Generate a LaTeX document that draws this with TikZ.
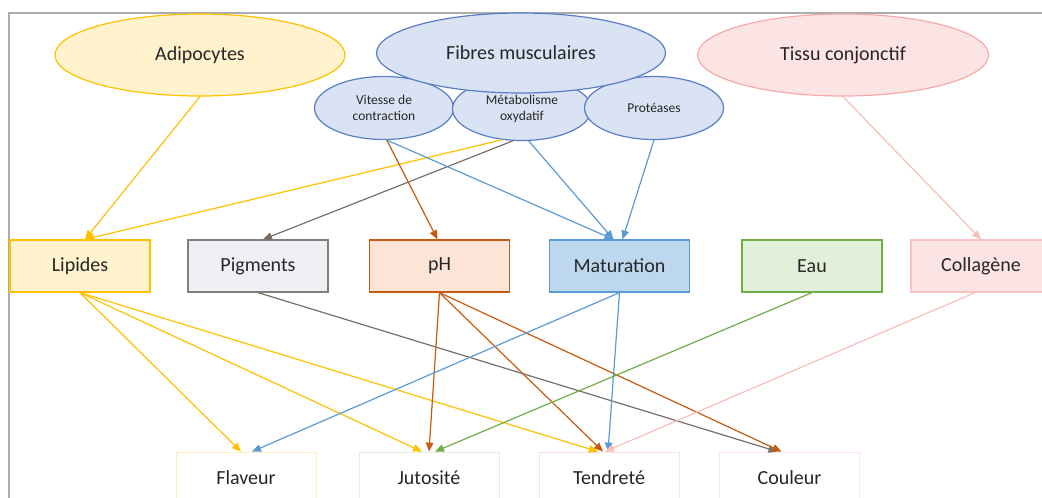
\documentclass[tikz,border=0pt]{standalone}
\usepackage{fontspec}
\setmainfont{Carlito}
\usetikzlibrary{shapes.geometric,arrows.meta}
\definecolor{txt}{HTML}{262626}
\definecolor{gold}{HTML}{FFC000}
\definecolor{goldfill}{HTML}{FFF2CC}
\definecolor{fibline}{HTML}{5A7EC6}
\definecolor{fibfill}{HTML}{DAE3F3}
\definecolor{pinkline}{HTML}{F7A9A9}
\definecolor{pinkfill}{HTML}{FDE4E4}
\definecolor{pigline}{HTML}{7F7F7F}
\definecolor{pigfill}{HTML}{EEF0F4}
\definecolor{pigarrow}{HTML}{776F67}
\definecolor{phline}{HTML}{C55A11}
\definecolor{phfill}{HTML}{FCE4D6}
\definecolor{matline}{HTML}{5B9BD5}
\definecolor{matfill}{HTML}{BDD7EE}
\definecolor{eauline}{HTML}{70AD47}
\definecolor{eaufill}{HTML}{E2F0D9}
\definecolor{pinkarrow}{HTML}{F8BFB8}

\begin{document}
\begin{tikzpicture}[x=1pt,y=-1pt,
  every node/.style={text=txt},
  ell/.style={ellipse,draw,line width=1.2pt,inner sep=0pt,font=\fontsize{20}{24}\selectfont},
  sub/.style={ellipse,draw=fibline,fill=fibfill,line width=1.2pt,inner sep=0pt,
    minimum width=139,minimum height=63,align=center,font=\fontsize{13.5}{16}\selectfont},
  box/.style={rectangle,draw,line width=1.2pt,minimum width=140,minimum height=52,
    inner sep=0pt,font=\fontsize{20}{24}\selectfont},
  qualbox/.style={box,fill=white,line width=0.8pt},
  arr/.style={line width=1.2pt,-{Triangle[length=9pt,width=7.5pt]}}]
\useasboundingbox (0,0) rectangle (1042,498);
% frame
\draw[gray!65,line width=1.2pt] (9,498) -- (9,13) -- (1042,13);
% sources
\node[ell,draw=gold,fill=goldfill,minimum width=290,minimum height=82] (adip) at (200,55) {Adipocytes};
\node[ell,draw=pinkline,fill=pinkfill,minimum width=291,minimum height=82] (tiss) at (843,55) {Tissu conjonctif};
\node[sub] (vit) at (384,108) {Vitesse de\\contraction};
\node[sub] (meta) at (522,109) {Métabolisme\\oxydatif};
\node[sub] (prot) at (654,108) {Protéases};
\node[ell,draw=fibline,fill=fibfill,minimum width=289,minimum height=80] (fib) at (521,53) {Fibres musculaires};
% middle row
\node[box,draw=gold,fill=goldfill] (lip) at (80,266) {Lipides};
\node[box,draw=pigline,fill=pigfill] (pig) at (258,266) {Pigments};
\node[box,draw=phline,fill=phfill] (ph) at (439.5,266) {pH};
\node[box,draw=matline,fill=matfill] (mat) at (619.5,266) {Maturation};
\node[box,draw=eauline,fill=eaufill] (eau) at (812,266) {Eau};
\node[box,draw=pinkline!70,fill=pinkfill] (coll) at (981,266) {Collagène};
% qualities
\node[qualbox,draw=gold!25] (flav) at (246,478) {Flaveur};
\node[qualbox,draw=eauline!20] (jut) at (429,478) {Jutosité};
\node[qualbox,draw=pinkline!35] (tend) at (609,478) {Tendreté};
\node[qualbox,draw=pinkline!30] (coul) at (789.5,478) {Couleur};
% top arrows
\draw[arr,gold] (adip.south) -- ([xshift=5]lip.north);
\draw[arr,gold] (meta.237) -- ([xshift=5]lip.north);
\draw[arr,pigarrow] (meta.254) -- ([xshift=5]pig.north);
\draw[arr,phline] (vit.275) -- ([xshift=-2]ph.north);
\draw[arr,matline] (vit.275) -- ([xshift=-6]mat.north);
\draw[arr,matline] (meta.282) -- ([xshift=-6]mat.north);
\draw[arr,matline] (prot.south) -- ([xshift=3]mat.north);
\draw[arr,pinkarrow] (tiss.south) -- (coll.north);
% bottom arrows
\draw[arr,gold] (lip.south) -- ([xshift=-5]flav.north);
\draw[arr,gold] (lip.south) -- ([xshift=-7]jut.north);
\draw[arr,gold] (lip.south) -- ([xshift=-11]tend.north);
\draw[arr,pigarrow] (pig.south) -- ([xshift=-12]coul.north);
\draw[arr,phline] (ph.south) -- (jut.north);
\draw[arr,phline] (ph.south) -- ([xshift=-6]tend.north);
\draw[arr,phline] (ph.south) -- ([xshift=-8]coul.north);
\draw[arr,matline] (mat.south) -- ([xshift=6]flav.north);
\draw[arr,matline] (mat.south) -- ([xshift=-1]tend.north);
\draw[arr,eauline] (eau.south) -- ([xshift=6]jut.north);
\draw[arr,pinkarrow] ([xshift=-6]coll.south) -- ([xshift=-4]tend.north);
\end{tikzpicture}
\end{document}
